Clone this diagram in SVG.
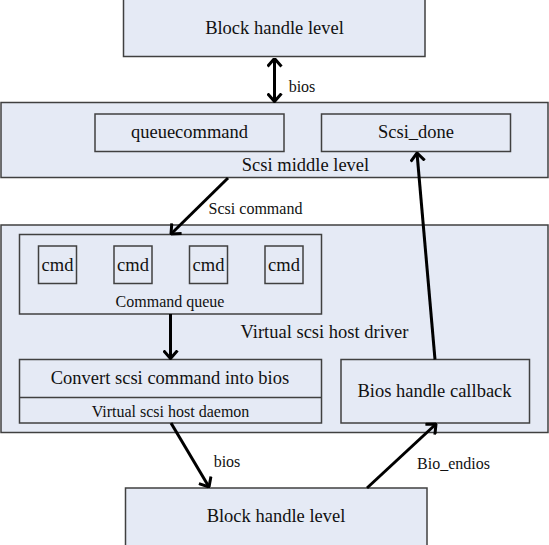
<svg xmlns="http://www.w3.org/2000/svg" width="549" height="545" viewBox="0 0 549 545">
<defs>
<marker id="ah" viewBox="0 0 10 16" refX="9" refY="8" markerWidth="10" markerHeight="16" markerUnits="userSpaceOnUse" orient="auto-start-reverse">
<path d="M1,1 L9,8 L1,15" fill="none" stroke="#000" stroke-width="3"/>
</marker>
<style>
.box{fill:#E5EAF5;stroke:#404040;stroke-width:1.5}
.t{font-family:"Liberation Serif","Times New Roman",serif;fill:#111;text-anchor:middle}
.l{font-size:18.5px}
.s{font-size:16px}
.c{fill:none;stroke:#000;stroke-width:3;marker-end:url(#ah)}
</style>
</defs>
<rect width="549" height="545" fill="#fff"/>
<g id="block-top">
<rect class="box" x="123.5" y="-1" width="301.5" height="57.5"/>
<text class="t l" x="274.5" y="34">Block handle level</text>
</g>
<g id="scsi-middle">
<rect class="box" x="1" y="102.5" width="547" height="75"/>
<text class="t l" x="305.5" y="171">Scsi middle level</text>
</g>
<g id="queuecommand">
<rect class="box" x="95" y="114" width="189" height="37.5"/>
<text class="t l" x="189.5" y="138">queuecommand</text>
</g>
<g id="scsi-done">
<rect class="box" x="321.5" y="114" width="189" height="37.5"/>
<text class="t l" x="416" y="138">Scsi_done</text>
</g>
<g id="host-driver">
<rect class="box" x="1" y="225" width="547" height="207.5"/>
<text class="t l" x="324.5" y="338">Virtual scsi host driver</text>
</g>
<g id="command-queue">
<rect class="box" x="19.5" y="234.5" width="302" height="79.5"/>
<text class="t s" x="170" y="307">Command queue</text>
</g>
<g id="cmd1">
<rect class="box" x="38.5" y="246" width="38" height="37.5"/>
<text class="t l" x="57.5" y="271">cmd</text>
</g>
<g id="cmd2">
<rect class="box" x="114" y="246" width="38" height="37.5"/>
<text class="t l" x="133" y="271">cmd</text>
</g>
<g id="cmd3">
<rect class="box" x="189.5" y="246" width="38" height="37.5"/>
<text class="t l" x="208.5" y="271">cmd</text>
</g>
<g id="cmd4">
<rect class="box" x="265" y="246" width="38" height="37.5"/>
<text class="t l" x="284" y="271">cmd</text>
</g>
<g id="daemon">
<rect class="box" x="19.5" y="359.5" width="302" height="63.5"/>
<line x1="19.5" y1="397.5" x2="321.5" y2="397.5" stroke="#404040" stroke-width="1.5"/>
<text class="t l" x="170" y="384">Convert scsi command into bios</text>
<text class="t s" x="170.5" y="416.5">Virtual scsi host daemon</text>
</g>
<g id="callback">
<rect class="box" x="341" y="359.5" width="188.5" height="63.5"/>
<text class="t l" x="434.5" y="397">Bios handle callback</text>
</g>
<g id="block-bottom">
<rect class="box" x="125.5" y="488" width="301.5" height="58"/>
<text class="t l" x="276" y="522">Block handle level</text>
</g>
<g id="connectors">
<line class="c" x1="274.5" y1="58.5" x2="274.5" y2="101.5" style="marker-start:url(#ah)"/>
<text class="t s" x="302" y="92">bios</text>
<line class="c" x1="228" y1="178" x2="171" y2="234"/>
<text class="t s" x="255.5" y="214">Scsi command</text>
<line class="c" x1="170.5" y1="314" x2="170.5" y2="358.5"/>
<line class="c" x1="435" y1="359.5" x2="417" y2="153"/>
<line class="c" x1="171" y1="423" x2="209" y2="487"/>
<text class="t s" x="227" y="467">bios</text>
<line class="c" x1="367" y1="488" x2="436" y2="424"/>
<text class="t s" x="453.5" y="469">Bio_endios</text>
</g>
</svg>
